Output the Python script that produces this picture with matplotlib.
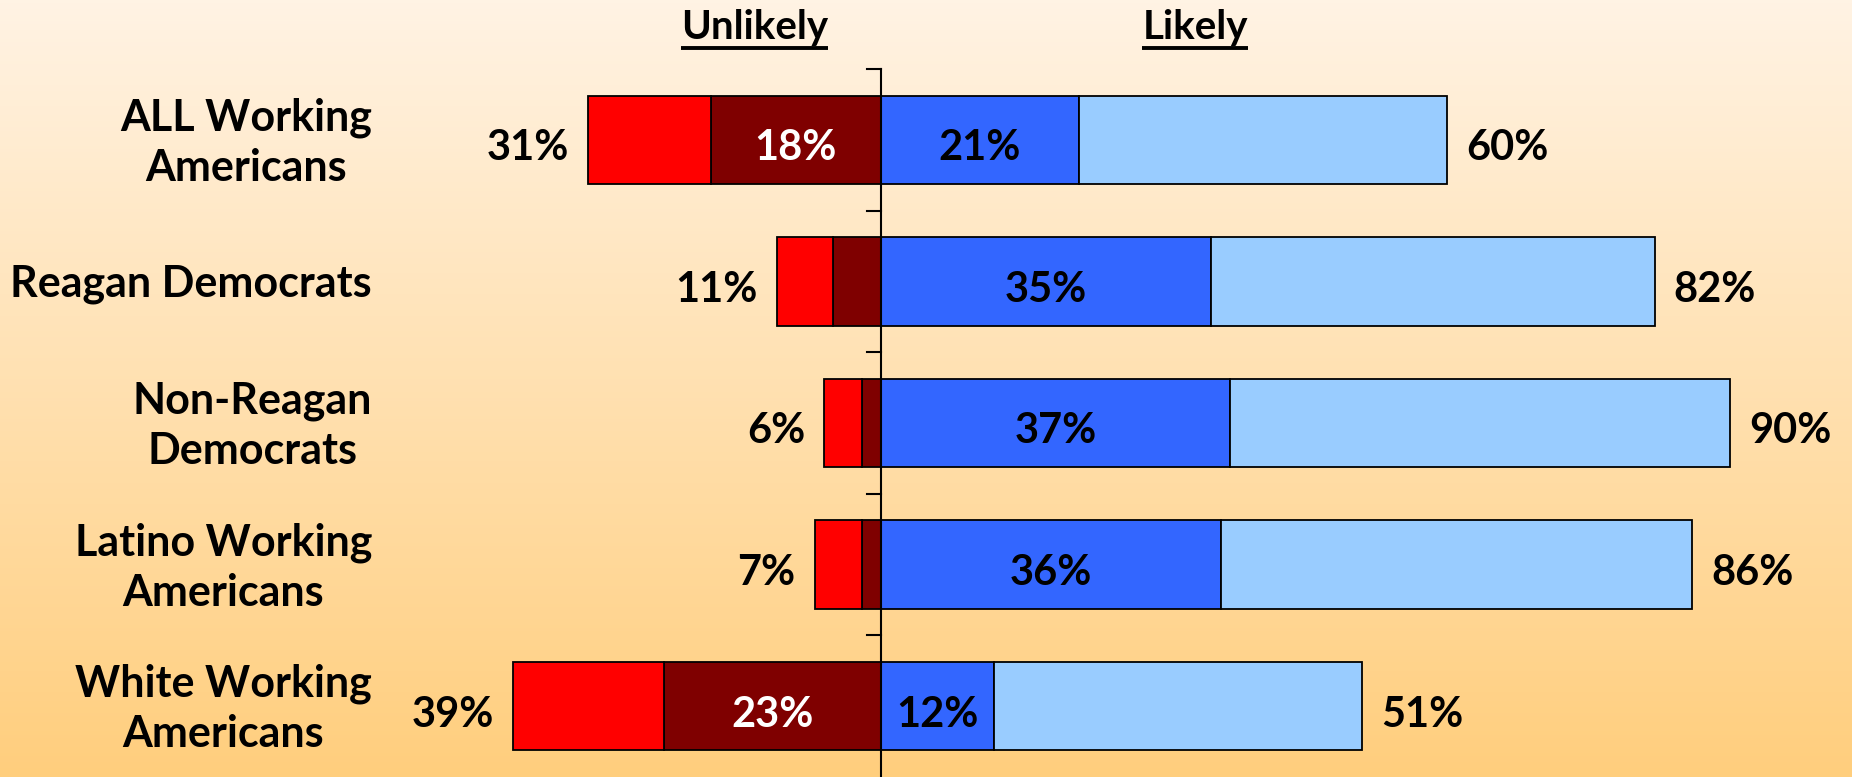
import matplotlib.pyplot as plt
import numpy as np

plt.rcParams['font.family'] = ['Lato', 'DejaVu Sans']

groups = ['ALL Working\nAmericans', 'Reagan Democrats', 'Non-Reagan\nDemocrats',
          'Latino Working\nAmericans', 'White Working\nAmericans']
very_unlikely = [18, 5, 2, 2, 23]
unlikely_total = [31, 11, 6, 7, 39]
very_likely = [21, 35, 37, 36, 12]
likely_total = [60, 82, 90, 86, 51]
show_inner_unlikely = [True, False, False, False, True]

fig = plt.figure(figsize=(18.52, 7.77), dpi=100)

# background gradient
bg = fig.add_axes([0, 0, 1, 1], zorder=0)
top = np.array([255, 243, 228]) / 255
bot = np.array([255, 206, 125]) / 255
t = np.linspace(0, 1, 256)[:, None]
grad = top[None, :] * (1 - t) + bot[None, :] * t
bg.imshow(grad[:, None, :], aspect='auto', extent=[0, 1, 0, 1])
bg.axis('off')

ax = fig.add_axes([0, 0, 1, 1], zorder=1)
ax.patch.set_alpha(0)
ax.set_xlim(-93.3, 102.9)
ax.set_ylim(4.5, -0.987)
ax.axis('off')

y = np.arange(len(groups))
vu = np.array(very_unlikely)
ut = np.array(unlikely_total)
vl = np.array(very_likely)
lt = np.array(likely_total)
h = 0.625
ek = dict(edgecolor='black', linewidth=1.3, zorder=2)

ax.barh(y, -vu, height=h, color='#7f0000', **ek)
ax.barh(y, -(ut - vu), left=-vu, height=h, color='#ff0000', **ek)
ax.barh(y, vl, height=h, color='#3366ff', **ek)
ax.barh(y, lt - vl, left=vl, height=h, color='#99ccff', **ek)

# center axis with ticks between groups
ax.plot([0, 0], [-0.5, 4.5], color='black', lw=1.5, zorder=3, clip_on=False)
for b in np.arange(-0.5, 4.0, 1.0):
    ax.plot([-1.5, 0], [b, b], color='black', lw=1.5, zorder=3)

fs = 30
dy = 0.06
for i in range(len(groups)):
    ax.text(-53.9, y[i] + 0.02, groups[i], ha='right', va='center',
            multialignment='center', fontsize=31, fontweight='bold', linespacing=1.3)
    ax.text(-ut[i] - 2, y[i] + dy, f'{ut[i]}%', ha='right', va='center',
            fontsize=fs, fontweight='bold')
    ax.text(lt[i] + 2, y[i] + dy, f'{lt[i]}%', ha='left', va='center',
            fontsize=fs, fontweight='bold')
    ax.text(vl[i] / 2, y[i] + dy, f'{vl[i]}%', ha='center', va='center',
            fontsize=fs, fontweight='bold', zorder=4)
    if show_inner_unlikely[i]:
        ax.text(-vu[i] / 2, y[i] + dy, f'{vu[i]}%', ha='center', va='center',
                fontsize=fs, fontweight='bold', color='white', zorder=4)

# headers with underline
fig.canvas.draw()
r = fig.canvas.get_renderer()
for label, xc in [('Unlikely', -13.4), ('Likely', 33.3)]:
    tx = ax.text(xc, -0.79, label, ha='center', va='center', fontsize=29,
                 fontweight='bold')
    bb = tx.get_window_extent(renderer=r)
    x0, _ = ax.transData.inverted().transform((bb.x0, 0))
    x1, _ = ax.transData.inverted().transform((bb.x1, 0))
    ax.plot([x0, x1], [-0.65, -0.65], color='black', lw=2.8,
            solid_capstyle='butt')

fig.savefig('out.png', dpi=100)
